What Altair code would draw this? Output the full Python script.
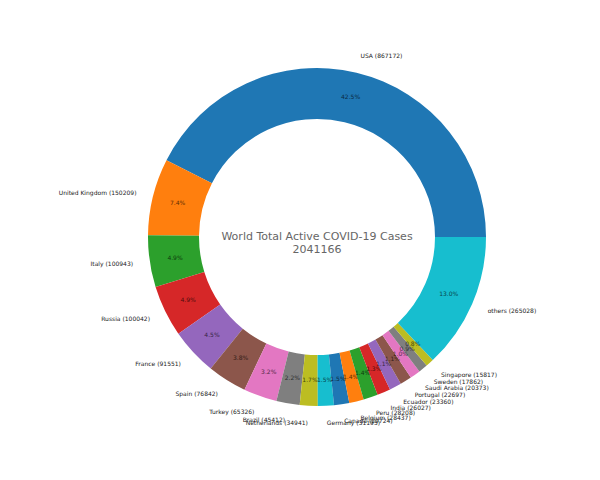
import math
import altair as alt
import pandas as pd

countries = ["USA", "United Kingdom", "Italy", "Russia", "France", "Spain", "Turkey",
             "Brazil", "Netherlands", "Germany", "Canada", "Belgium", "Peru", "India",
             "Ecuador", "Portugal", "Saudi Arabia", "Sweden", "Singapore", "others"]
cases = [867172, 150209, 100943, 100042, 91551, 76842, 65326, 45412, 34941, 31195,
         29724, 28437, 28208, 26027, 23360, 22697, 20373, 17862, 15817, 265028]
palette = ["#1f77b4", "#ff7f0e", "#2ca02c", "#d62728", "#9467bd",
           "#8c564b", "#e377c2", "#7f7f7f", "#bcbd22", "#17becf"]
center_title = "World Total Active COVID-19 Cases"

total = sum(cases)
rows = []
cum = 0
for i, (c, v) in enumerate(zip(countries, cases)):
    mid = (cum + v / 2) / total
    cum += v
    side = "right" if math.cos(2 * math.pi * mid) >= 0 else "left"
    rows.append({"idx": i, "country": c, "cases": v,
                 "label": f"{c} ({v})", "pct": f"{100 * v / total:.1f}%", "side": side})
df = pd.DataFrame(rows)
colors = [palette[i % len(palette)] for i in range(len(countries))]

CX, CY = 309, 229
R_OUT, R_IN = 169, 118

theta_scale = alt.Scale(domain=[0, total], range=[math.pi / 2 + 2 * math.pi, math.pi / 2], nice=False)
theta = alt.Theta("cases:Q", stack=True, scale=theta_scale)
order = alt.Order("idx:Q", sort="ascending")

base = alt.Chart(df).encode(theta=theta, order=order,
                            x=alt.value(CX), y=alt.value(CY))

arcs = base.mark_arc(innerRadius=R_IN, outerRadius=R_OUT).encode(
    color=alt.Color("country:N", scale=alt.Scale(domain=countries, range=colors), legend=None)
)

pcts = base.mark_text(radius=(R_IN + R_OUT) / 2, fontSize=6, font="DejaVu Sans",
                      align="center", baseline="middle", color="black", opacity=0.65).encode(
    text="pct:N"
)

labels_r = base.mark_text(radius=R_OUT * 1.1, fontSize=6, font="DejaVu Sans",
                          align="left", baseline="middle", color="#222222").encode(
    text=alt.condition(alt.datum.side == "right", "label:N", alt.value(""))
)

labels_l = base.mark_text(radius=R_OUT * 1.1, fontSize=6, font="DejaVu Sans",
                          align="right", baseline="middle", color="#222222").encode(
    text=alt.condition(alt.datum.side == "left", "label:N", alt.value(""))
)

center = alt.Chart(pd.DataFrame({"t": [0]})).mark_text(
    fontSize=11, font="DejaVu Sans", align="center", baseline="middle",
    color="#666666", lineHeight=13
).encode(x=alt.value(CX), y=alt.value(CY), text=alt.value([center_title, str(total)]))

chart = alt.layer(arcs, pcts, labels_r, labels_l, center).properties(
    width=584, height=464, padding=0, autosize="none"
).configure_view(stroke=None)

chart.save("out.html", embed_options={"renderer": "svg", "actions": False})
